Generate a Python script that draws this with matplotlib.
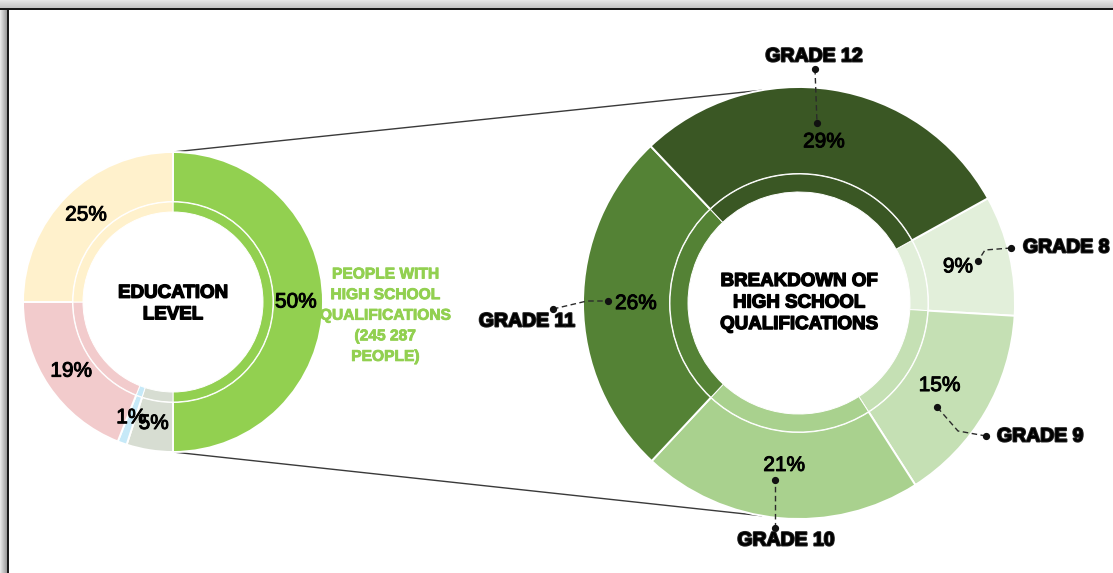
import matplotlib
matplotlib.use("Agg")
import matplotlib.pyplot as plt
import matplotlib.patheffects as pe
from matplotlib.patches import Rectangle
import numpy as np

plt.rcParams['font.family'] = ['Liberation Sans', 'DejaVu Sans']

# Education level split (share of people, %)
edu_pct = [50, 5, 1, 19, 25]
edu_colors = ['#92d050', '#d7ddd2', '#c6e9f8', '#f2cbcc', '#fff1cc']

# Breakdown of high school qualifications (%)
grade_labels = ['GRADE 8', 'GRADE 9', 'GRADE 10', 'GRADE 11', 'GRADE 12']
grade_pct = [9, 15, 21, 26, 29]
grade_colors = ['#e2efda', '#c5e0b4', '#a9d18e', '#548235', '#3a5724']

highlight_lines = ['PEOPLE WITH', 'HIGH SCHOOL', 'QUALIFICATIONS', '(245 287', 'PEOPLE)']

W, H = 1113, 573
fig = plt.figure(figsize=(W / 100, H / 100), dpi=100)
ax = fig.add_axes([0, 0, 1, 1])

def fy(y):
    # screen-style y (top = 0) to data y
    return H - y

# layout of the two rings (pixels)
left_c, left_r, left_hole, left_inner = (173, 302), 150, 100, 90
right_c, right_r, right_hole, right_inner = (799, 303), 216, 129, 111


def ring(center, r_out, r_mid, r_in, values, colors, start):
    c = (center[0], fy(center[1]))
    ax.pie(values, colors=colors, radius=r_out, center=c,
           startangle=start, counterclock=False,
           wedgeprops=dict(width=r_out - r_mid, edgecolor='white', linewidth=1.4))
    ax.pie(values, colors=colors, radius=r_mid, center=c,
           startangle=start, counterclock=False,
           wedgeprops=dict(width=r_mid - r_in, edgecolor='white', linewidth=0.7))


def mid_angles(values, start):
    v = np.array(values, dtype=float)
    cum = np.cumsum(v) / v.sum() * 360
    return start - (cum - v / v.sum() * 180)


# connector lines between the 50% slice and the breakdown ring
for a_left, a_right in [(90, 100), (-90, -100)]:
    x0 = left_c[0] + left_r * np.cos(np.radians(a_left))
    y0 = fy(left_c[1]) + left_r * np.sin(np.radians(a_left))
    x1 = right_c[0] + right_r * np.cos(np.radians(a_right))
    y1 = fy(right_c[1]) + right_r * np.sin(np.radians(a_right))
    ax.plot([x0, x1], [y0, y1], color='#3a3a3a', lw=1.0, zorder=0)

ring(left_c, left_r, left_hole, left_inner, edu_pct, edu_colors, 90)
ring(right_c, right_r, right_hole, right_inner, grade_pct, grade_colors, 29)

pct_font = dict(fontsize=15, color='black', ha='center', va='center', zorder=10,
                path_effects=[pe.withStroke(linewidth=0.7, foreground='black')])

for v, a in zip(edu_pct, mid_angles(edu_pct, 90)):
    rr = left_r * 0.82
    ax.text(left_c[0] + rr * np.cos(np.radians(a)),
            fy(left_c[1]) + rr * np.sin(np.radians(a)), f'{v}%', **pct_font)

for v, a in zip(grade_pct, mid_angles(grade_pct, 29)):
    rr = right_r * 0.755
    ax.text(right_c[0] + rr * np.cos(np.radians(a)),
            fy(right_c[1]) + rr * np.sin(np.radians(a)), f'{v}%', **pct_font)

heavy = [pe.withStroke(linewidth=1.0, foreground='black')]
ax.text(left_c[0], fy(304), 'EDUCATION\nLEVEL', fontsize=13.5, fontweight='bold',
        ha='center', va='center', linespacing=1.35, path_effects=heavy, zorder=10)
ax.text(right_c[0], fy(303), 'BREAKDOWN OF\nHIGH SCHOOL\nQUALIFICATIONS',
        fontsize=13.5, fontweight='bold', ha='center', va='center',
        linespacing=1.35, path_effects=heavy, zorder=10)

# green note beside the 50% slice
green = '#92d050'
note_top = 274
fig.canvas.draw()
renderer = fig.canvas.get_renderer()
for i, line in enumerate(highlight_lines):
    t = ax.text(385, fy(note_top + i * 20.6), line, fontsize=11.2, fontweight='bold',
                color=green, ha='center', va='center',
                path_effects=[pe.withStroke(linewidth=0.6, foreground=green)])
    if line.startswith('('):
        bb = t.get_window_extent(renderer)
        ax.plot([bb.x0 + 4, bb.x1], [bb.y0 - 1, bb.y0 - 1], color=green, lw=1.2)

# callouts for the grade slices: (label, text x, text y, align, leader path)
callouts = [
    ('GRADE 12', 814, 57, 'center', [(815, 69), (816, 96), (817, 123)]),
    ('GRADE 8', 1023, 248, 'left', [(1011, 248), (985, 250), (978, 261)]),
    ('GRADE 9', 997, 437, 'left', [(986, 436), (958, 431), (937, 407)]),
    ('GRADE 10', 786, 541, 'center', [(775, 528), (775, 500), (775, 480)]),
    ('GRADE 11', 527, 322, 'center', [(553, 309), (587, 301), (608, 301)]),
]
for label, tx, ty, ha, path in callouts:
    xs = [p[0] for p in path]
    ys = [fy(p[1]) for p in path]
    ax.plot(xs, ys, color='#2b2b2b', lw=1.0, ls=(0, (4, 2.5)), zorder=11)
    ax.plot([xs[0], xs[-1]], [ys[0], ys[-1]], 'o', color='#111111', ms=4.2, zorder=12)
    ax.text(tx, fy(ty), label, fontsize=14, fontweight='bold', ha=ha, va='center',
            path_effects=[pe.withStroke(linewidth=1.4, foreground='#222222')], zorder=12)

# window frame along the top and left edges
for i, g in enumerate(np.linspace(0.90, 0.78, 8)):
    ax.add_patch(Rectangle((0, H - i - 1), W, 1, color=str(g), lw=0, zorder=20))
for i, g in enumerate(np.linspace(0.90, 0.62, 7)):
    ax.add_patch(Rectangle((i, 0), 1, H - 8, color=str(g), lw=0, zorder=20))
ax.add_patch(Rectangle((0, H - 10), W, 2, color='#1a1a1a', lw=0, zorder=21))
ax.add_patch(Rectangle((7, 0), 2, H - 8, color='#1a1a1a', lw=0, zorder=21))

ax.set_xlim(0, W)
ax.set_ylim(0, H)
ax.set_aspect('auto')
ax.axis('off')

fig.savefig('out.png', dpi=100, facecolor='white')
